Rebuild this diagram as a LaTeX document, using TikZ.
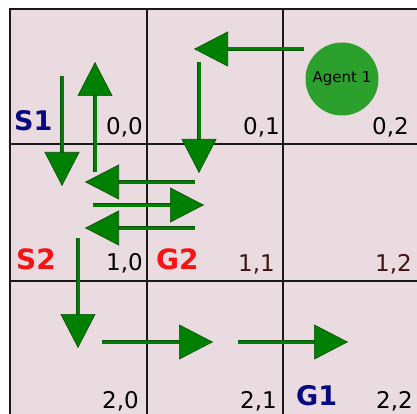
\documentclass[tikz,border=0pt]{standalone}
\usepackage{fontspec}
\setmainfont{DejaVu Sans}
\usetikzlibrary{arrows.meta}
\definecolor{cellfill}{HTML}{E9DBDF}
\definecolor{arrowgreen}{HTML}{008000}
\definecolor{edgegreen}{HTML}{0B4F0B}
\definecolor{agentgreen}{HTML}{2CA02C}
\definecolor{labelnavy}{HTML}{0A0A80}
\definecolor{labelred}{HTML}{F41414}
\definecolor{labelbrown}{HTML}{3D1515}
\tikzset{
  gridline/.style={draw=black!90, line width=2pt},
  frameline/.style={draw=black!90, line width=2.6pt},
  move/.style={draw=arrowgreen, line width=3pt,
    -{Triangle[length=34pt, width=35pt, fill=arrowgreen, color=edgegreen, line width=0.6pt]},
    preaction={draw=edgegreen, line width=4.2pt, arrows=-, shorten >=20pt}},
  cellno/.style={inner sep=0pt, anchor=base east, font=\fontsize{23}{23}\selectfont},
  statebold/.style={inner sep=0pt, anchor=base west, font=\fontsize{27}{27}\selectfont\bfseries},
  statered/.style={statebold, text=labelred, font=\fontsize{28}{28}\selectfont\bfseries},
  agent/.style={circle, fill=agentgreen, minimum size=73pt, inner sep=0pt,
    font=\fontsize{15}{15}\selectfont}
}
\begin{document}
\begin{tikzpicture}[x=1pt, y=-1pt]
  \useasboundingbox (0,0) rectangle (417,414);
  % board background
  \fill[white] (0,0) rectangle (417,414);
  \fill[cellfill] (10,9) rectangle (420,420);
  % grid lines
  \draw[gridline] (147,9) -- (147,420);
  \draw[gridline] (283,9) -- (283,420);
  \draw[gridline] (10,144) -- (420,144);
  \draw[gridline] (10,281) -- (420,281);
  \draw[frameline] (420,9) -- (10,9) -- (10,420);

  % cell indices
  \node[cellno] (c00) at (143,135) {0,0};
  \node[cellno] (c01) at (280,135) {0,1};
  \node[cellno] (c02) at (409,135) {0,2};
  \node[cellno] (c10) at (143,270) {1,0};
  \node[cellno, text=labelbrown] (c11) at (275,271) {1,1};
  \node[cellno, text=labelbrown] (c12) at (412,271) {1,2};
  \node[cellno] (c20) at (139,408) {2,0};
  \node[cellno] (c21) at (277,408) {2,1};
  \node[cellno] (c22) at (413,408) {2,2};

  % start and goal states
  \node[statebold, text=labelnavy] (s1) at (14,131) {S1};
  \node[statered] (s2) at (16,269) {S2};
  \node[statered] (g2) at (156,269) {G2};
  \node[statebold, text=labelnavy] (g1) at (296,405) {G1};

  % the agent
  \node[agent] (agent) at (342,79) {Agent 1};

  % move end points
  \coordinate (m1s) at (62,76);   \coordinate (m1e) at (62,186);
  \coordinate (m2s) at (95,172);  \coordinate (m2e) at (95,62);
  \coordinate (m3s) at (195,182); \coordinate (m3e) at (85,182);
  \coordinate (m4s) at (93,205);  \coordinate (m4e) at (204,205);
  \coordinate (m5s) at (195,228); \coordinate (m5e) at (85,228);
  \coordinate (m6s) at (304,49);  \coordinate (m6e) at (194,49);
  \coordinate (m7s) at (199,62);  \coordinate (m7e) at (199,173);
  \coordinate (m8s) at (78,238);  \coordinate (m8e) at (78,348);
  \coordinate (m9s) at (102,342); \coordinate (m9e) at (213,342);
  \coordinate (m10s) at (238,342); \coordinate (m10e) at (348,342);

  % moves
  \foreach \k in {1,...,10}
    \draw[move] (m\k s) -- (m\k e);
\end{tikzpicture}
\end{document}
